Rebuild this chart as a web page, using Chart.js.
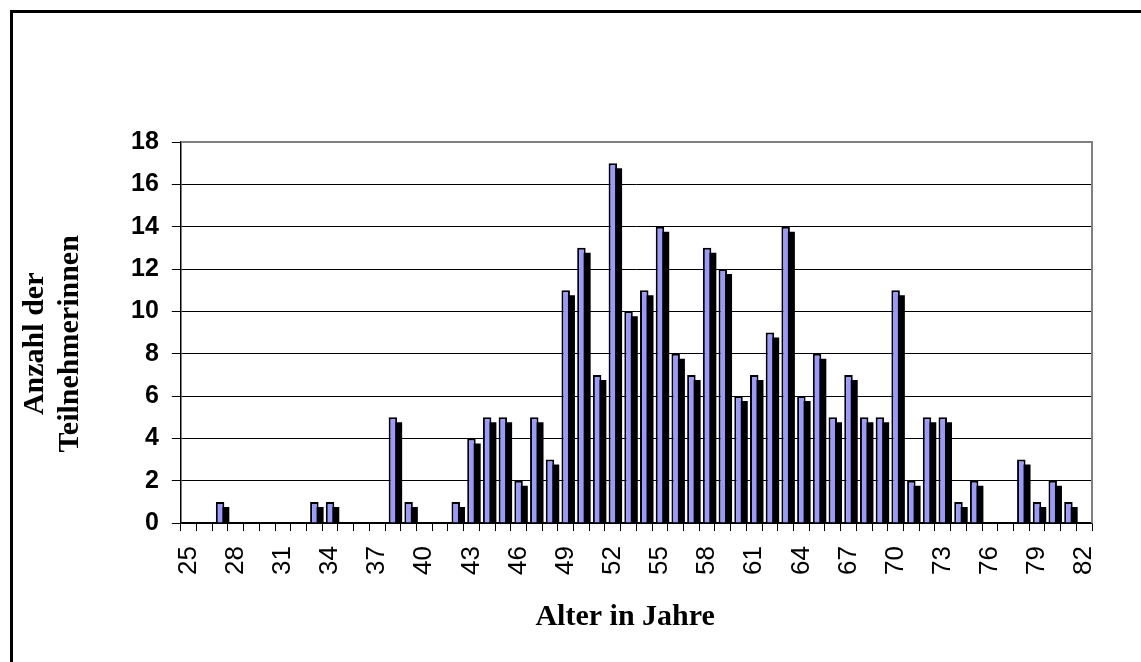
<!DOCTYPE html>
<html>
<head>
<meta charset="utf-8">
<script src="https://cdn.jsdelivr.net/npm/chart.js@4.4.1/dist/chart.umd.min.js"></script>
<style>
  html, body { margin: 0; padding: 0; background: #ffffff; }
  #wrap { position: relative; width: 1141px; height: 662px; }
</style>
</head>
<body>
<div id="wrap"><canvas id="c" width="1141" height="662"></canvas></div>
<script>
// Categories: age in years
const ages = ['25','26','27','28','29','30','31','32','33','34','35','36','37','38','39','40',
  '41','42','43','44','45','46','47','48','49','50','51','52','53','54','55','56','57','58','59','60',
  '61','62','63','64','65','66','67','68','69','70','71','72','73','74','75','76','77','78','79','80',
  '81','82'];
// Number of participants per age
const counts = [0,0,1,0,0,0,0,0,1,1,0,0,0,5,1,0,
  0,1,4,5,5,2,5,3,11,13,7,17,10,11,14,8,7,13,12,6,
  7,9,14,6,8,5,7,5,5,11,2,5,5,1,2,0,0,3,1,2,
  1,0];
// Tick labels shown on the x axis (every third age)
const shownAgeLabels = ['25','28','31','34','37','40','43','46','49','52','55','58','61','64','67','70','73','76','79','82'];
const yTicks = [0,2,4,6,8,10,12,14,16,18];

const xTitle = 'Alter in Jahre   ';
const yTitle = ['Anzahl der   ', 'Teilnehmerinnen   '];

const SANS = "'Liberation Sans', Arial, sans-serif";
const SERIF = "'Liberation Serif', 'Times New Roman', serif";

// depth/shadow effect for the black back bars, plus frame decorations
const decor = {
  id: 'decor',
  beforeDatasetDraw(chart, args) {
    if (args.index !== 0) return;
    const a = chart.chartArea;
    const ctx = chart.ctx;
    ctx.save();
    ctx.beginPath();
    ctx.rect(a.left, a.top, a.right - a.left, a.bottom - a.top);
    ctx.clip();
    ctx.translate(5, 5);
  },
  afterDatasetDraw(chart, args) {
    if (args.index !== 0) return;
    chart.ctx.restore();
  },
  afterDraw(chart) {
    const ctx = chart.ctx;
    const a = chart.chartArea;
    ctx.save();
    // plot area top/right border (grey)
    ctx.strokeStyle = '#808080';
    ctx.lineWidth = 2;
    ctx.beginPath();
    ctx.moveTo(a.left, a.top);
    ctx.lineTo(a.right, a.top);
    ctx.lineTo(a.right, a.bottom);
    ctx.stroke();
    // outer chart frame (left and top edges visible)
    ctx.fillStyle = '#000000';
    ctx.fillRect(10, 10, 3, chart.height);
    ctx.fillRect(10, 10, chart.width, 3);
    ctx.restore();
  }
};

new Chart(document.getElementById('c'), {
  type: 'bar',
  data: {
    labels: ages,
    datasets: [
      {
        label: 'shadow',
        data: counts,
        backgroundColor: '#000000',
        borderWidth: 0,
        barPercentage: 0.54,
        categoryPercentage: 1.0,
        grouped: false,
        order: 2
      },
      {
        label: 'Teilnehmerinnen',
        data: counts,
        backgroundColor: '#9999ff',
        borderColor: '#000000',
        borderWidth: 2,
        borderSkipped: 'start',
        barPercentage: 0.54,
        categoryPercentage: 1.0,
        grouped: false,
        order: 1
      }
    ]
  },
  options: {
    responsive: false,
    animation: false,
    devicePixelRatio: 1,
    layout: { padding: { left: 10, top: 142, right: 49, bottom: 0 } },
    plugins: {
      legend: { display: false },
      tooltip: { enabled: false }
    },
    scales: {
      x: {
        offset: true,
        grid: { display: true, drawOnChartArea: false, drawTicks: true, tickLength: 8, color: '#000000', lineWidth: 1, offset: true },
        border: { display: true, color: '#000000', width: 1.5 },
        ticks: {
          autoSkip: false,
          minRotation: 90,
          maxRotation: 90,
          padding: 15,
          color: '#000000',
          font: { family: SANS, size: 26 },
          callback: function(value, index) {
            const lab = ages[index];
            return shownAgeLabels.includes(lab) ? lab : '';
          }
        },
        title: {
          display: true,
          text: xTitle,
          color: '#000000',
          font: { family: SERIF, size: 30, weight: 'bold', lineHeight: 1.2 },
          padding: { top: 9, bottom: 27 }
        }
      },
      y: {
        min: 0,
        max: 18,
        afterBuildTicks(scale) { scale.ticks = yTicks.map(v => ({ value: v })); },
        grid: { display: true, drawOnChartArea: true, drawTicks: true, tickLength: 9, color: '#000000', lineWidth: 1 },
        border: { display: true, color: '#000000', width: 1.5 },
        ticks: {
          padding: 13,
          color: '#000000',
          font: { family: SANS, size: 25, weight: 'bold' }
        },
        title: {
          display: true,
          text: yTitle,
          color: '#000000',
          font: { family: SERIF, size: 30, weight: 'bold', lineHeight: 35 / 30 },
          padding: { top: 8, bottom: 30 }
        }
      }
    }
  },
  plugins: [decor]
});
</script>
</body>
</html>
